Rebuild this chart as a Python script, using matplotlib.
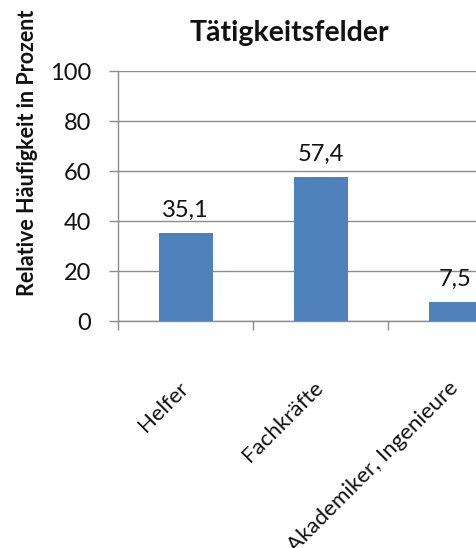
import matplotlib
matplotlib.use("Agg")
import matplotlib.pyplot as plt

categories = ["Helfer", "Fachkräfte", "Akademiker, Ingenieure"]
values = [35.1, 57.4, 7.5]
yticks = [0, 20, 40, 60, 80, 100]

plt.rcParams['font.family'] = ['Lato', 'DejaVu Sans']

fig = plt.figure(figsize=(4.76, 5.48), dpi=100)
# plot area runs past the right edge of the figure
ax = fig.add_axes([118/476, 1-321/548, 405/476, 250/548])

x = list(range(len(categories)))
ax.bar(x, values, width=0.4, color="#4F81BD", zorder=3)
for xi, v in zip(x, values):
    ax.annotate(f"{v:.1f}".replace(".", ","), (xi, v), xytext=(0, 12),
                textcoords="offset points", ha="center", va="baseline",
                fontsize=17, color="#111111")

ax.set_xlim(-0.5, len(categories) - 0.5)
ax.set_ylim(0, 100)
ax.set_yticks(yticks)
ax.set_yticklabels([str(t) for t in yticks], fontsize=17, color="#111111")
ax.yaxis.grid(True, color="#8c8c8c", linewidth=1.0, zorder=0)

ax.set_xticks([i - 0.5 for i in range(len(categories) + 1)], minor=False)
ax.set_xticklabels([])
ax.set_xticks(x, minor=True)
ax.set_xticklabels(categories, minor=True, rotation=45, ha="right",
                   va="center", rotation_mode="anchor", fontsize=16,
                   color="#111111")
ax.tick_params(axis="x", which="minor", length=0, pad=46)
ax.tick_params(axis="x", which="major", length=6.5, width=1, color="#8c8c8c")
ax.tick_params(axis="y", length=6.5, width=1, color="#8c8c8c", pad=13)

for side in ("top", "right"):
    ax.spines[side].set_visible(False)
for side in ("left", "bottom"):
    ax.spines[side].set_color("#8c8c8c")
    ax.spines[side].set_linewidth(1.0)

fig.text(289/476, 1-33/548, "Tätigkeitsfelder", ha="center", va="center",
         fontsize=20.5, fontweight="bold", color="#111111")
fig.text(28/476, 1-153/548, "Relative Häufigkeit in Prozent", ha="center",
         va="center", rotation=90, fontsize=15.5, fontweight="bold",
         color="#111111")

fig.savefig("out.png", dpi=100)
